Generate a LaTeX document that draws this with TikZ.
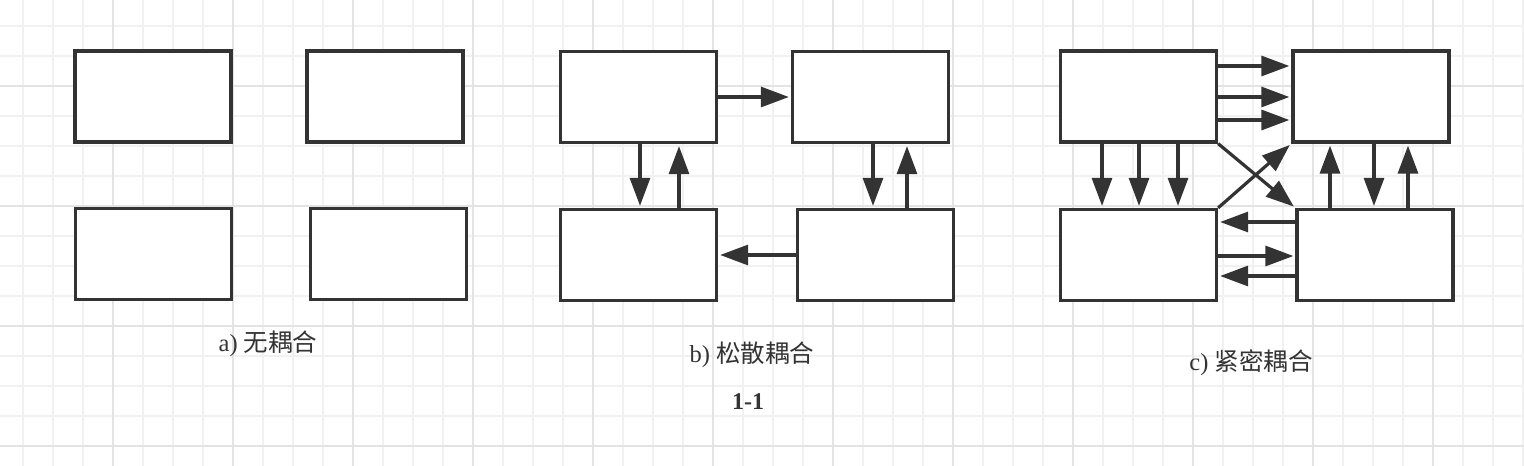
\documentclass[tikz,border=0pt]{standalone}
\usepackage{fontspec}
\setmainfont{Liberation Serif}
\newfontfamily\cjk{Noto Sans CJK SC}
\usetikzlibrary{arrows.meta}
\definecolor{gridminor}{HTML}{F1F1F1}
\definecolor{gridmajor}{HTML}{E3E3E3}
\definecolor{ink}{HTML}{333333}
\begin{document}
\begin{tikzpicture}[x=1pt,y=-1pt,
  box/.style={draw=ink, line width=3.3pt, fill=white, minimum width=156pt, minimum height=91pt, inner sep=0pt},
  arr/.style={draw=ink, line width=3.2pt, -{Triangle[length=28pt,width=20pt]}, shorten >=2pt},
  lbl/.style={font=\fontsize{24.5}{28}\selectfont, text=ink, inner sep=0pt},
  minor/.style={draw=gridminor, line width=1.6pt},
  major/.style={draw=gridmajor, line width=1.6pt}
]
\useasboundingbox (0,0) rectangle (1524,466);
\fill[white] (0,0) rectangle (1524,466);
% grid
\foreach \x in {23,53,...,1523} \draw[minor] (\x,0) -- (\x,466);
\foreach \y in {26,56,...,466} \draw[minor] (0,\y) -- (1524,\y);
\foreach \x in {113,233,...,1523} \draw[major] (\x,0) -- (\x,466);
\foreach \y in {86,206,326,446} \draw[major] (0,\y) -- (1524,\y);

% a) no coupling
\node[box] (a1) at (153,96.5) {};
\node[box] (a2) at (385,96.5) {};
\node[box] (a3) at (153.5,254) {};
\node[box] (a4) at (388.5,254) {};

% b) loose coupling
\node[box] (b1) at (638.5,97) {};
\node[box] (b2) at (870.5,97) {};
\node[box] (b3) at (638.5,255) {};
\node[box] (b4) at (875.5,255) {};
\draw[arr] (b1.east) -- (b2.west);
\draw[arr] ([xshift=1.5pt]b1.south) -- ([xshift=1.5pt]b3.north);
\draw[arr] ([xshift=40.5pt]b3.north) -- ([xshift=40.5pt]b1.south);
\coordinate (bd) at ([xshift=2.5pt]b2.south);
\draw[arr] (bd) -- (bd |- b4.north);
\coordinate (bu) at ([xshift=31.5pt]b4.north);
\draw[arr] (bu) -- (bu |- b2.south);
\draw[arr] (b4.west) -- (b3.east);

% c) tight coupling
\node[box] (c1) at (1138.5,96.5) {};
\node[box] (c2) at (1371,96.5) {};
\node[box] (c3) at (1138.5,255) {};
\node[box] (c4) at (1375,255) {};
\draw[arr] ([yshift=30.5pt]c1.east) -- ([yshift=30.5pt]c2.west);
\draw[arr] ([yshift=-0.5pt]c1.east) -- ([yshift=-0.5pt]c2.west);
\draw[arr] ([yshift=-23.5pt]c1.east) -- ([yshift=-23.5pt]c2.west);
\draw[arr] ([xshift=-36.5pt]c1.south) -- ([xshift=-36.5pt]c3.north);
\draw[arr] ([xshift=0.5pt]c1.south) -- ([xshift=0.5pt]c3.north);
\draw[arr] ([xshift=39.5pt]c1.south) -- ([xshift=39.5pt]c3.north);
\draw[arr] (c1.south east) -- (c4.north west);
\draw[arr] (c3.north east) -- (c2.south west);
\coordinate (cu1) at ([xshift=-45pt]c4.north);
\draw[arr] (cu1) -- (cu1 |- c2.south);
\coordinate (cd) at ([xshift=3pt]c2.south);
\draw[arr] (cd) -- (cd |- c4.north);
\coordinate (cu2) at ([xshift=33pt]c4.north);
\draw[arr] (cu2) -- (cu2 |- c2.south);
\draw[arr] ([yshift=33pt]c4.west) -- ([yshift=33pt]c3.east);
\draw[arr] ([yshift=-1pt]c3.east) -- ([yshift=-1pt]c4.west);
\draw[arr] ([yshift=-21pt]c4.west) -- ([yshift=-21pt]c3.east);

% labels
\node[lbl] (la) at (268,344) {a) {\cjk 无耦合}};
\node[lbl] (lb) at (752,355) {b) {\cjk 松散耦合}};
\node[lbl, font=\fontsize{24}{28}\selectfont\bfseries] (fig) at (748,402) {1-1};
\node[lbl] (lc) at (1251,363) {c) {\cjk 紧密耦合}};
\end{tikzpicture}
\end{document}
